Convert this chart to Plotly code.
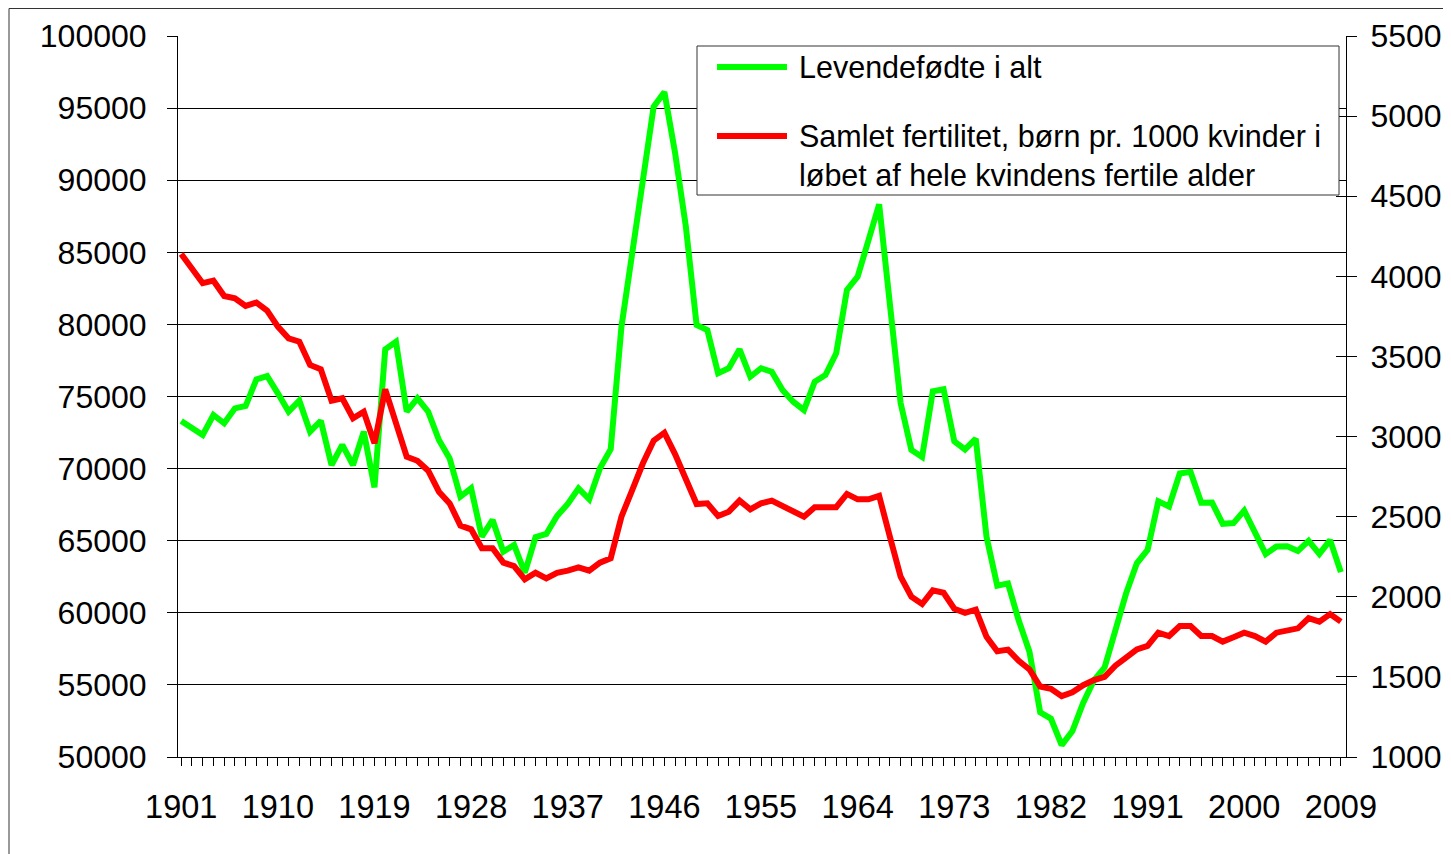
import plotly.graph_objects as go

years = list(range(1901, 2010))

births = [
    73300, 72860, 72330, 73720, 73140, 74180, 74340, 76190, 76420, 75220,  # 1901-1910
    73950, 74710, 72560, 73320, 70250, 71640, 70250, 72560, 68700, 78270,  # 1911-1920
    78800, 73950, 74870, 73950, 71980, 70710, 68050, 68630, 65280, 66440,  # 1921-1930
    64240, 64700, 62780, 65240, 65470, 66710, 67550, 68630, 67870, 70020,  # 1931-1940
    71350, 79840, 85040, 90240, 95100, 96110, 91870, 86780, 79960, 79610,  # 1941-1950
    76610, 76960, 78270, 76370, 76960, 76720, 75450, 74640, 74060, 76030,  # 1951-1960
    76490, 78000, 82390, 83310, 85740, 88332, 81410, 74543, 71298, 70802,  # 1961-1970
    75359, 75505, 71895, 71327, 72071, 65267, 61878, 62036, 59464, 57293,  # 1971-1980
    53089, 52658, 50822, 51800, 53749, 55312, 56221, 58844, 61351, 63433,  # 1981-1990
    64358, 67726, 67369, 69666, 69771, 67638, 67648, 66174, 66220, 67084,  # 1991-2000
    65458, 64075, 64599, 64609, 64282, 64984, 64082, 65038, 62818,         # 2001-2009
]

fertility = [
    4139, 4050, 3957, 3973, 3877, 3863, 3815, 3836, 3786, 3686,  # 1901-1910
    3613, 3592, 3447, 3420, 3224, 3239, 3114, 3155, 2958, 3295,  # 1911-1920
    3083, 2874, 2849, 2787, 2656, 2583, 2445, 2421, 2303, 2303,  # 1921-1930
    2213, 2192, 2109, 2150, 2115, 2150, 2163, 2184, 2163, 2213,  # 1931-1940
    2240, 2500, 2666, 2833, 2974, 3024, 2889, 2730, 2579, 2583,  # 1941-1950
    2504, 2531, 2600, 2546, 2583, 2600, 2567, 2531, 2500, 2559,  # 1951-1960
    2559, 2559, 2642, 2608, 2608, 2630, 2375, 2125, 2000, 1955,  # 1961-1970
    2040, 2025, 1925, 1900, 1920, 1750, 1660, 1670, 1600, 1546,  # 1971-1980
    1440, 1426, 1380, 1404, 1448, 1480, 1500, 1570, 1620, 1672,  # 1981-1990
    1693, 1776, 1755, 1818, 1818, 1755, 1755, 1720, 1747, 1776,  # 1991-2000
    1755, 1720, 1776, 1793, 1803, 1866, 1845, 1892, 1845,        # 2001-2009
]

name_births = "Levendefødte i alt"
name_fert_1 = "Samlet fertilitet, børn pr. 1000 kvinder i"
name_fert_2 = "løbet af hele kvindens fertile alder"

tick_years = [y for y in years]
tick_text = [str(y) if (y - 1901) % 9 == 0 else "" for y in years]

GREEN = "#00FF00"
RED = "#FF0000"
FONT = "Arial, 'Liberation Sans', sans-serif"

# The page body has an 8px margin; work in window pixels and shift.
OFF = 8
W, H = 1451 - OFF, 854 - OFF
L, R, T, B = 178 - OFF, 1346 - OFF, 36 - OFF, 757 - OFF


def px(x):
    return (x - OFF - L) / (R - L)


def py(y):
    return (B - (y - OFF)) / (B - T)


fig = go.Figure()
fig.add_trace(go.Scatter(x=years, y=births, mode="lines", name=name_births,
                         line=dict(color=GREEN, width=6), yaxis="y", showlegend=False))
fig.add_trace(go.Scatter(x=years, y=fertility, mode="lines",
                         name=name_fert_1 + " " + name_fert_2,
                         line=dict(color=RED, width=6), yaxis="y2", showlegend=False))
# invisible trace to activate crossing tick marks on right axis
fig.add_trace(go.Scatter(x=[years[0]], y=[fertility[0]], mode="lines", yaxis="y3",
                         line=dict(width=0), hoverinfo="skip", showlegend=False))

shapes = [
    # outer frame
    dict(type="rect", xref="paper", yref="paper", x0=px(9), x1=px(1447), y0=py(900), y1=py(8.5),
         line=dict(color="#333333", width=1), fillcolor="rgba(0,0,0,0)", layer="below"),
    # legend box
    dict(type="rect", xref="paper", yref="paper", x0=px(697), x1=px(1339), y0=py(195), y1=py(46),
         line=dict(color="#333333", width=1), fillcolor="white", layer="above"),
    dict(type="line", xref="paper", yref="paper", x0=px(717), x1=px(787), y0=py(67), y1=py(67),
         line=dict(color=GREEN, width=6), layer="above"),
    dict(type="line", xref="paper", yref="paper", x0=px(717), x1=px(787), y0=py(136), y1=py(136),
         line=dict(color=RED, width=6), layer="above"),
]

LEG_FONT = dict(family=FONT, size=30.5, color="black")
annotations = [
    dict(xref="paper", yref="paper", x=px(797), y=py(67), text=name_births, showarrow=False,
         xanchor="left", yanchor="middle", font=LEG_FONT),
    dict(xref="paper", yref="paper", x=px(797), y=py(136), text=name_fert_1, showarrow=False,
         xanchor="left", yanchor="middle", font=LEG_FONT),
    dict(xref="paper", yref="paper", x=px(797), y=py(175), text=name_fert_2, showarrow=False,
         xanchor="left", yanchor="middle", font=LEG_FONT),
]

fig.update_layout(
    width=W, height=H, autosize=False,
    margin=dict(l=L, r=W - R, t=T, b=H - B, pad=0),
    paper_bgcolor="white", plot_bgcolor="white",
    font=dict(family=FONT, size=32, color="black"),
    showlegend=False,
    xaxis=dict(range=[1900.7, 2009.48], tickmode="array", tickvals=tick_years, ticktext=tick_text,
               ticks="outside", ticklen=8, tickcolor="black", tickwidth=1,
               showgrid=False, zeroline=False, showline=True, linecolor="black", linewidth=1,
               tickfont=dict(size=32.5), ticklabelstandoff=13, automargin=False),
    yaxis=dict(range=[50000, 100000], dtick=5000, tick0=50000, tickformat="d",
               ticks="outside", ticklen=10, tickcolor="black",
               showgrid=True, gridcolor="black", gridwidth=1, zeroline=False,
               showline=True, linecolor="black", linewidth=1,
               tickfont=dict(size=32), ticklabelstandoff=14, automargin=False),
    yaxis2=dict(range=[1000, 5500], dtick=500, tick0=1000, tickformat="d", overlaying="y", side="right",
                ticks="outside", ticklen=10, tickcolor="black",
                showgrid=False, zeroline=False, showline=True, linecolor="black", linewidth=1,
                tickfont=dict(size=32), ticklabelstandoff=7, automargin=False),
    yaxis3=dict(range=[1000, 5500], dtick=500, tick0=1000, overlaying="y", side="right",
                ticks="inside", ticklen=10, tickcolor="black", showticklabels=False,
                showgrid=False, zeroline=False, showline=False, automargin=False),
    shapes=shapes,
    annotations=annotations,
)

fig.write_html("out.html")
